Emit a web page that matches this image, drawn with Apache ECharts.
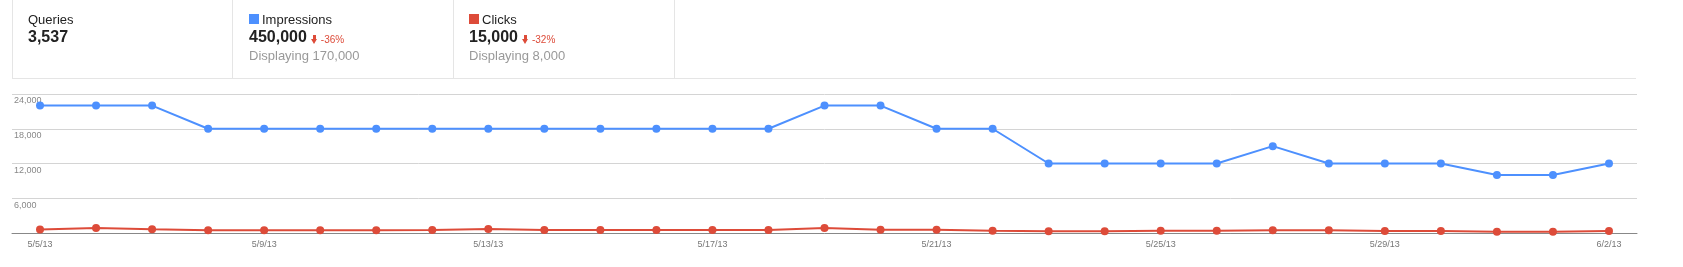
<!DOCTYPE html>
<html>
<head>
<meta charset="utf-8">
<script src="https://cdn.jsdelivr.net/npm/echarts@6/dist/echarts.min.js"></script>
<style>
  html, body { margin: 0; padding: 0; background: #fff; }
  body { width: 1683px; height: 267px; position: relative; overflow: hidden; font-family: "Liberation Sans", Arial, sans-serif; }
  #chart { position: absolute; left: 0; top: 0; width: 1683px; height: 267px; }
  .hdr { position: absolute; top: 0; height: 78px; border-left: 1px solid #e5e5e5; }
  .bottom { position: absolute; left: 12px; top: 78px; width: 1624px; height: 0; border-top: 1px solid #e5e5e5; }
  .t { position: absolute; white-space: nowrap; }
  .lbl { font-size: 13px; line-height: 15px; color: #222; top: 12px; }
  .big { font-size: 16px; line-height: 18px; font-weight: bold; color: #222; top: 28px; }
  .sub { font-size: 13px; line-height: 15px; color: #999; top: 48px; }
  .pct { font-size: 10px; line-height: 12px; color: #dd4b39; top: 34px; }
  .sq { position: absolute; top: 14px; width: 10px; height: 10px; }
  .arrow { position: absolute; top: 35px; width: 7px; height: 9px; }
  .arrow .stem { position: absolute; left: 2px; top: 0; width: 3px; height: 5px; background: #dd4b39; }
  .arrow .head { position: absolute; left: 0; top: 4px; width: 0; height: 0; border-left: 3.5px solid transparent; border-right: 3.5px solid transparent; border-top: 5px solid #dd4b39; }
</style>
</head>
<body>
<div id="chart"></div>
<div class="hdr" style="left:12px;"></div>
<div class="hdr" style="left:232px;"></div>
<div class="hdr" style="left:453px;"></div>
<div class="hdr" style="left:674px;"></div>
<div class="bottom"></div>
<div id="header"></div>
<script>
// ---- data ----
var categories = ['5/5/13','5/6/13','5/7/13','5/8/13','5/9/13','5/10/13','5/11/13','5/12/13','5/13/13','5/14/13',
  '5/15/13','5/16/13','5/17/13','5/18/13','5/19/13','5/20/13','5/21/13','5/22/13','5/23/13','5/24/13',
  '5/25/13','5/26/13','5/27/13','5/28/13','5/29/13','5/30/13','5/31/13','6/1/13','6/2/13'];
var impressions = [22000,22000,22000,18000,18000,18000,18000,18000,18000,18000,
  18000,18000,18000,18000,22000,22000,18000,18000,12000,12000,
  12000,12000,15000,12000,12000,12000,10000,10000,12000];
var clicks = [600,850,650,480,480,480,480,500,690,500,
  500,500,500,500,860,580,580,400,290,290,
  400,400,460,460,350,350,230,230,350];
var yTicks = [0, 6000, 12000, 18000, 24000];
var headerMetrics = [
  {name: 'Queries', total: '3,537', color: null, change: null, shown: null, left: 28},
  {name: 'Impressions', total: '450,000', color: '#4d90fe', change: '-36%', shown: 'Displaying 170,000', left: 249},
  {name: 'Clicks', total: '15,000', color: '#dd4b39', change: '-32%', shown: 'Displaying 8,000', left: 469}
];

// ---- header ----
var h = document.getElementById('header');
var html = '';
headerMetrics.forEach(function (m) {
  var x = m.left;
  if (m.color) {
    html += '<div class="sq" style="left:' + x + 'px;background:' + m.color + '"></div>';
    html += '<div class="t lbl" style="left:' + (x + 13) + 'px">' + m.name + '</div>';
  } else {
    html += '<div class="t lbl" style="left:' + x + 'px">' + m.name + '</div>';
  }
  html += '<div class="t big" id="big_' + m.name + '" style="left:' + x + 'px">' + m.total + '</div>';
  if (m.shown) html += '<div class="t sub" style="left:' + x + 'px">' + m.shown + '</div>';
});
h.innerHTML = html;
headerMetrics.forEach(function (m) {
  if (!m.change) return;
  var b = document.getElementById('big_' + m.name);
  var endX = m.left + b.getBoundingClientRect().width;
  var d = document.createElement('div');
  d.className = 'arrow';
  d.style.left = (endX + 4) + 'px';
  d.innerHTML = '<div class="stem"></div><div class="head"></div>';
  h.appendChild(d);
  var p = document.createElement('div');
  p.className = 't pct';
  p.style.left = (endX + 14) + 'px';
  p.textContent = m.change;
  h.appendChild(p);
});

// ---- chart ----
var chart = echarts.init(document.getElementById('chart'), null, {renderer: 'canvas'});
chart.setOption({
  animation: false,
  grid: {left: 12, right: 46, top: 94, bottom: 34, containLabel: false, outerBoundsMode: 'none'},
  xAxis: {
    type: 'category',
    data: categories,
    boundaryGap: true,
    axisLine: {show: true, lineStyle: {color: '#888', width: 1}},
    axisTick: {show: false},
    splitLine: {show: false},
    axisLabel: {interval: 3, fontSize: 9, color: '#777', margin: 7, fontFamily: 'Liberation Sans'}
  },
  yAxis: {
    type: 'value',
    min: yTicks[0],
    max: yTicks[yTicks.length - 1],
    interval: yTicks[1] - yTicks[0],
    axisLine: {show: false},
    axisTick: {show: false},
    splitLine: {show: true, lineStyle: {color: '#d4d4d4', width: 1}},
    axisLabel: {
      inside: true, margin: 2, fontSize: 9, color: '#888', fontFamily: 'Liberation Sans',
      verticalAlign: 'top', lineHeight: 14,
      formatter: function (v) { return v === 0 ? '' : v.toLocaleString('en-US'); }
    }
  },
  series: [
    {
      name: 'Impressions', type: 'line', data: impressions,
      symbol: 'circle', symbolSize: 8, showSymbol: true,
      lineStyle: {color: '#4d90fe', width: 2},
      itemStyle: {color: '#4d90fe'}
    },
    {
      name: 'Clicks', type: 'line', data: clicks,
      symbol: 'circle', symbolSize: 8, showSymbol: true,
      lineStyle: {color: '#dd4b39', width: 2},
      itemStyle: {color: '#dd4b39'}
    }
  ]
});
</script>
</body>
</html>
